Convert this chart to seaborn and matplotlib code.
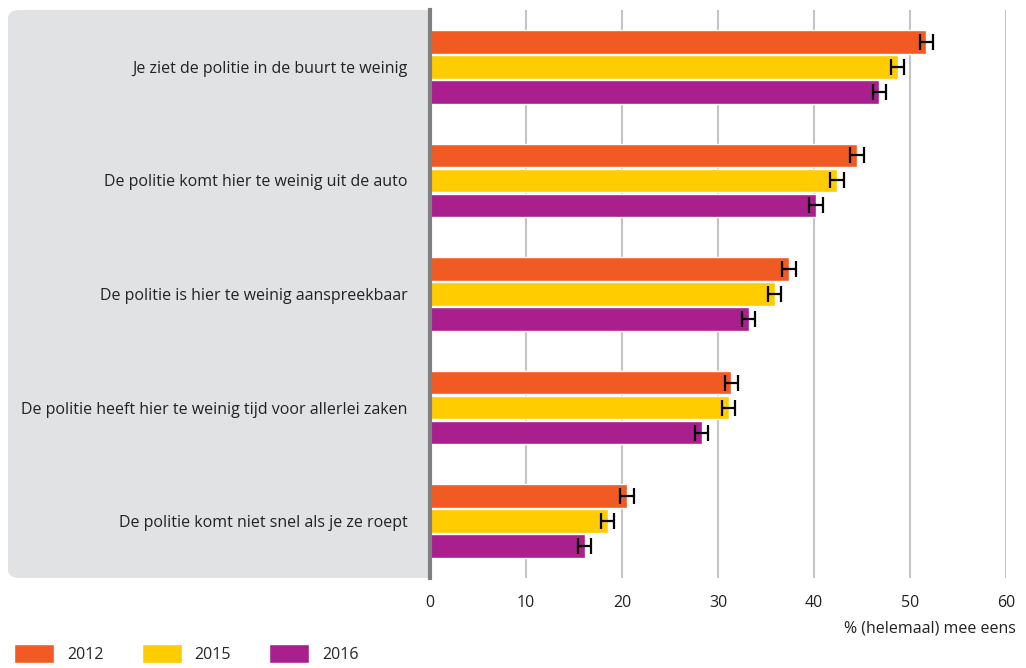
import pandas as pd
import matplotlib
matplotlib.use("Agg")
import matplotlib.pyplot as plt
from matplotlib.patches import FancyBboxPatch
import seaborn as sns

categories = [
    "Je ziet de politie in de buurt te weinig",
    "De politie komt hier te weinig uit de auto",
    "De politie is hier te weinig aanspreekbaar",
    "De politie heeft hier te weinig tijd voor allerlei zaken",
    "De politie komt niet snel als je ze roept",
]
years = ["2012", "2015", "2016"]
values_2012 = [51.7, 44.5, 37.4, 31.4, 20.5]
values_2015 = [48.7, 42.4, 35.9, 31.1, 18.5]
values_2016 = [46.8, 40.2, 33.2, 28.3, 16.1]
err_2012 = [0.7, 0.7, 0.7, 0.7, 0.7]
err_2015 = [0.7, 0.7, 0.7, 0.7, 0.7]
err_2016 = [0.7, 0.7, 0.7, 0.7, 0.7]
colors = ["#F15A22", "#FFCC00", "#A91F8D"]

rows = []
for yr, vals in zip(years, [values_2012, values_2015, values_2016]):
    for c, v in zip(categories, vals):
        rows.append({"categorie": c, "jaar": yr, "waarde": v})
df = pd.DataFrame(rows)

sns.set_style("white")
plt.rcParams["font.family"] = ["Open Sans", "DejaVu Sans"]

fig = plt.figure(figsize=(10.26, 6.68), dpi=100)
W, H = 1026, 668
ax = fig.add_axes([430 / W, 1 - 578 / H, 576 / W, 568 / H])

# grijs paneel achter de labels
panel = FancyBboxPatch((8 / W, 1 - 578 / H), 450 / W, 568 / H,
                       boxstyle="round,pad=0,rounding_size=0.012",
                       transform=fig.transFigure, facecolor="#E1E2E4",
                       edgecolor="none", zorder=-5)
fig.patches.append(panel)

sns.barplot(data=df, y="categorie", x="waarde", hue="jaar", palette=colors,
            orient="h", width=0.66, gap=0.05, errorbar=None, ax=ax,
            saturation=1, zorder=3)

for cont, errs in zip(ax.containers, [err_2012, err_2015, err_2016]):
    xs = [b.get_width() for b in cont]
    ys = [b.get_y() + b.get_height() / 2 for b in cont]
    ax.errorbar(xs, ys, xerr=errs, fmt="none", ecolor="black",
                elinewidth=1.6, capsize=6, capthick=1.6, zorder=4)

ax.set_facecolor("white")
ax.set_xlim(0, 60)
ax.set_ylim(4.5, -0.5)
ax.set_xticks(range(0, 61, 10))
ax.xaxis.grid(True, color="#C4C4C4", linewidth=1.5, zorder=0)
ax.set_axisbelow(True)
for s in ["top", "right", "bottom"]:
    ax.spines[s].set_visible(False)
ax.spines["left"].set_color("#808080")
ax.spines["left"].set_linewidth(3)
ax.spines["left"].set_zorder(5)
ax.tick_params(axis="y", length=0, pad=16, labelsize=11.5, labelcolor="#222222")
ax.tick_params(axis="x", length=0, pad=12, labelsize=11.5, labelcolor="#222222")
ax.set_ylabel("")
ax.set_xlabel("% (helemaal) mee eens", fontsize=11.5, color="#222222",
              loc="right", labelpad=6)
ax.xaxis.set_label_coords((1016 - 430) / 576, -0.075)

handles, labels = ax.get_legend_handles_labels()
ax.legend_.remove()
fig.legend(handles, labels, loc="lower left", bbox_to_anchor=(0.0, -0.014),
           ncol=3, frameon=False, fontsize=11.5, handlelength=2.5,
           handleheight=1.4, columnspacing=2.4, handletextpad=0.8)

fig.savefig("out.png", dpi=100)
